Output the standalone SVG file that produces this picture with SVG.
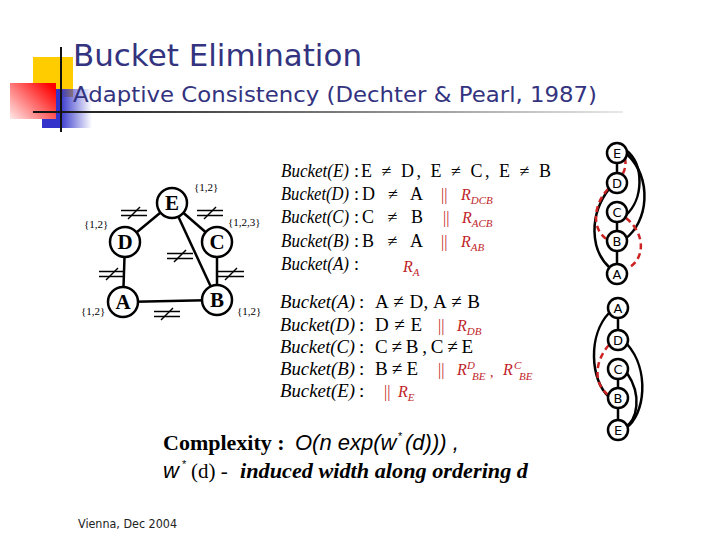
<svg xmlns="http://www.w3.org/2000/svg" width="720" height="540" viewBox="0 0 720 540">
<defs>
<linearGradient id="gBlue" x1="0" y1="0" x2="1" y2="0"><stop offset="0.35" stop-color="#3333cc"/><stop offset="1" stop-color="#3333cc" stop-opacity="0"/></linearGradient>
<linearGradient id="gRed" x1="1" y1="0.2" x2="0" y2="1"><stop offset="0" stop-color="#ff0000"/><stop offset="1" stop-color="#ffe8e8"/></linearGradient>
<linearGradient id="gLine" x1="0" y1="0" x2="1" y2="0"><stop offset="0" stop-color="#111"/><stop offset="0.5" stop-color="#777"/><stop offset="1" stop-color="#e8e8e8"/></linearGradient>
<g id="neq"><line x1="-13" y1="-2.5" x2="13" y2="-2.5"/><line x1="-13" y1="2.5" x2="13" y2="2.5"/><line x1="-6" y1="6" x2="6" y2="-6"/></g>
</defs>
<style>
.ttl{font-family:"DejaVu Sans",sans-serif;fill:#333380}
.ser{font-family:"Liberation Serif",serif;fill:#000}
.it{font-style:italic}
.red{fill:#c01e28;font-family:"Liberation Serif",serif}
.ri{fill:#c01e28;font-family:"Liberation Serif",serif;font-style:italic}
.nd{fill:#fff;stroke:#000;stroke-width:2.5}
.ed{stroke:#000;stroke-width:2.5;fill:none}
.dsh{stroke:#cc2222;stroke-width:2.5;fill:none;stroke-dasharray:6 4}
.nl{font-family:"Liberation Serif",serif;font-weight:bold;font-size:21px;text-anchor:middle}
.sl{font-family:"DejaVu Sans",sans-serif;font-size:13px;text-anchor:middle}
.dom{font-family:"Liberation Serif",serif;font-size:11px}
.mk{stroke:#000;stroke-width:1.5}
</style>
<rect width="720" height="540" fill="#fff"/>
<g id="logo">
<rect x="33" y="57" width="40" height="40" fill="#ffcc00"/>
<rect x="42" y="89" width="50" height="39" fill="url(#gBlue)"/>
<rect x="10" y="83" width="46" height="36" fill="url(#gRed)"/>
<rect x="33" y="111" width="590" height="2" fill="url(#gLine)"/>
<line x1="61" y1="47" x2="61" y2="132" stroke="#111" stroke-width="2"/>
</g>
<text class="ttl" x="73" y="66" font-size="30" textLength="289" lengthAdjust="spacingAndGlyphs">Bucket Elimination</text>
<text class="ttl" x="73" y="102" font-size="22" textLength="524" lengthAdjust="spacingAndGlyphs">Adaptive Consistency (Dechter &amp; Pearl, 1987)</text>

<g id="left-graph-connectors" class="ed">
<line x1="172" y1="203" x2="125" y2="242"/>
<line x1="172" y1="203" x2="217" y2="242"/>
<line x1="172" y1="203" x2="217" y2="300"/>
<line x1="125" y1="242" x2="123" y2="302"/>
<line x1="217" y1="242" x2="217" y2="300"/>
<line x1="123" y1="302" x2="217" y2="300"/>
</g>
<g id="neq-marks" class="mk">
<use href="#neq" x="134" y="213"/>
<use href="#neq" x="210" y="213"/>
<use href="#neq" x="180" y="256"/>
<use href="#neq" x="112" y="274"/>
<use href="#neq" x="231" y="274"/>
<use href="#neq" x="167" y="314"/>
</g>
<g id="nE"><circle class="nd" cx="172" cy="203" r="15"/><text class="nl" x="172" y="210">E</text></g>
<g id="nD"><circle class="nd" cx="125" cy="242" r="15"/><text class="nl" x="125" y="249">D</text></g>
<g id="nC"><circle class="nd" cx="217" cy="242" r="15"/><text class="nl" x="217" y="249">C</text></g>
<g id="nA"><circle class="nd" cx="123" cy="302" r="15"/><text class="nl" x="123" y="309">A</text></g>
<g id="nB"><circle class="nd" cx="217" cy="300" r="15"/><text class="nl" x="217" y="307">B</text></g>
<g id="domains">
<text class="dom" x="194" y="191">{1,2}</text>
<text class="dom" x="84" y="228">{1,2}</text>
<text class="dom" x="228" y="226">{1,2,3}</text>
<text class="dom" x="81" y="315">{1,2}</text>
<text class="dom" x="237" y="315">{1,2}</text>
</g>

<g id="bucket-top" font-size="18">
<text class="ser it" x="281" y="177" textLength="68" lengthAdjust="spacingAndGlyphs">Bucket(E)</text><text class="ser" x="354" y="177">:</text>
<text class="ser" x="361" y="177" textLength="190" lengthAdjust="spacing">E ≠ D, E ≠ C, E ≠ B</text>
<text class="ser it" x="281" y="200" textLength="68" lengthAdjust="spacingAndGlyphs">Bucket(D)</text><text class="ser" x="354" y="200">:</text>
<text class="ser" x="362" y="200" textLength="61" lengthAdjust="spacing">D ≠ A</text>
<text class="red" x="441" y="200" font-size="16">||</text>
<text class="ri" x="461" y="200" font-size="16">R<tspan font-size="11" dy="4">DCB</tspan></text>
<text class="ser it" x="281" y="223" textLength="68" lengthAdjust="spacingAndGlyphs">Bucket(C)</text><text class="ser" x="354" y="223">:</text>
<text class="ser" x="362" y="223" textLength="61" lengthAdjust="spacing">C ≠ B</text>
<text class="red" x="443" y="223" font-size="16">||</text>
<text class="ri" x="462" y="223" font-size="16">R<tspan font-size="11" dy="4">ACB</tspan></text>
<text class="ser it" x="281" y="247" textLength="68" lengthAdjust="spacingAndGlyphs">Bucket(B)</text><text class="ser" x="354" y="247">:</text>
<text class="ser" x="362" y="247" textLength="61" lengthAdjust="spacing">B ≠ A</text>
<text class="red" x="441" y="247" font-size="16">||</text>
<text class="ri" x="461" y="247" font-size="16">R<tspan font-size="11" dy="4">AB</tspan></text>
<text class="ser it" x="281" y="270" textLength="68" lengthAdjust="spacingAndGlyphs">Bucket(A)</text><text class="ser" x="354" y="270">:</text>
<text class="ri" x="403" y="272" font-size="16">R<tspan font-size="11" dy="4">A</tspan></text>
</g>

<g id="bucket-bottom" font-size="19">
<text class="ser it" x="280" y="308" textLength="75" lengthAdjust="spacingAndGlyphs">Bucket(A)</text><text class="ser" x="359" y="308">:</text>
<text class="ser" x="375" y="308" textLength="105" lengthAdjust="spacing">A ≠ D, A ≠ B</text>
<text class="ser it" x="280" y="331" textLength="75" lengthAdjust="spacingAndGlyphs">Bucket(D)</text><text class="ser" x="359" y="331">:</text>
<text class="ser" x="375" y="331" textLength="47" lengthAdjust="spacing">D ≠ E</text>
<text class="red" x="438" y="331" font-size="16">||</text>
<text class="ri" x="457" y="331" font-size="16">R<tspan font-size="11" dy="4">DB</tspan></text>
<text class="ser it" x="280" y="353" textLength="75" lengthAdjust="spacingAndGlyphs">Bucket(C)</text><text class="ser" x="359" y="353">:</text>
<text class="ser" x="375" y="353" textLength="98" lengthAdjust="spacing">C ≠ B , C ≠ E</text>
<text class="ser it" x="280" y="375" textLength="75" lengthAdjust="spacingAndGlyphs">Bucket(B)</text><text class="ser" x="359" y="375">:</text>
<text class="ser" x="375" y="375" textLength="43" lengthAdjust="spacing">B ≠ E</text>
<text class="red" x="438" y="375" font-size="16">||</text>
<text class="ri" x="457" y="375" font-size="16">R</text><text class="ri" x="467" y="369" font-size="11">D</text><text class="ri" x="472" y="380" font-size="11">BE</text>
<text class="red" x="490" y="377" font-size="14">,</text>
<text class="ri" x="503" y="375" font-size="16">R</text><text class="ri" x="514" y="369" font-size="11">C</text><text class="ri" x="519" y="380" font-size="11">BE</text>
<text class="ser it" x="280" y="397" textLength="75" lengthAdjust="spacingAndGlyphs">Bucket(E)</text><text class="ser" x="359" y="397">:</text>
<text class="red" x="384" y="397" font-size="16">||</text>
<text class="ri" x="398" y="397" font-size="16">R<tspan font-size="11" dy="4">E</tspan></text>
</g>

<g id="right-top-connectors">
<line class="ed" x1="617" y1="153" x2="617" y2="183"/>
<line class="ed" x1="617" y1="212" x2="617" y2="241"/>
<line class="ed" x1="617" y1="241" x2="617" y2="274"/>
<path class="ed" d="M626,150 C645,165 643,200 626,215"/>
<path class="ed" d="M627,154 C653,180 648,222 625,239"/>
<path class="ed" d="M609,189 C589,215 590,250 610,268"/>
<path class="dsh" d="M625,158 Q627,168 621,177"/>
<path class="dsh" d="M608,189 C593,205 591,230 608,240"/>
<path class="dsh" d="M626,218 C647,235 644,260 628,268"/>
</g>
<g id="rtE"><circle class="nd" cx="617" cy="153" r="10"/><text class="sl" x="617" y="158">E</text></g>
<g id="rtD"><circle class="nd" cx="617" cy="183" r="10"/><text class="sl" x="617" y="188">D</text></g>
<g id="rtC"><circle class="nd" cx="617" cy="212" r="10"/><text class="sl" x="617" y="217">C</text></g>
<g id="rtB"><circle class="nd" cx="617" cy="241" r="10"/><text class="sl" x="617" y="246">B</text></g>
<g id="rtA"><circle class="nd" cx="617" cy="274" r="10"/><text class="sl" x="617" y="279">A</text></g>

<g id="right-bottom-connectors">
<line class="ed" x1="618" y1="308" x2="618" y2="340"/>
<line class="ed" x1="618" y1="369" x2="618" y2="398"/>
<line class="ed" x1="618" y1="398" x2="618" y2="430"/>
<path class="ed" d="M609,313 C588,335 590,380 609,397"/>
<path class="ed" d="M627,344 C650,370 645,415 626,428"/>
<path class="ed" d="M627,373 C642,395 638,420 624,428"/>
<path class="dsh" d="M609,345 C595,360 592,385 610,396"/>
</g>
<g id="rbA"><circle class="nd" cx="618" cy="308" r="10"/><text class="sl" x="618" y="313">A</text></g>
<g id="rbD"><circle class="nd" cx="618" cy="340" r="10"/><text class="sl" x="618" y="345">D</text></g>
<g id="rbC"><circle class="nd" cx="618" cy="369" r="10"/><text class="sl" x="618" y="374">C</text></g>
<g id="rbB"><circle class="nd" cx="618" cy="398" r="10"/><text class="sl" x="618" y="403">B</text></g>
<g id="rbE"><circle class="nd" cx="618" cy="430" r="10"/><text class="sl" x="618" y="435">E</text></g>

<g id="complexity">
<text class="ser" x="163" y="450" font-size="22" font-weight="bold">Complexity :</text>
<text x="295" y="450" font-size="22" font-style="italic" font-family="Liberation Sans, sans-serif">O(n exp(w</text>
<text x="398" y="440" font-size="11" font-family="Liberation Sans, sans-serif">*</text>
<text x="405" y="450" font-size="22" font-style="italic" font-family="Liberation Sans, sans-serif">(d))) ,</text>
<text x="163" y="478" font-size="22" font-style="italic" font-family="Liberation Sans, sans-serif">w</text>
<text x="182" y="468" font-size="11" font-family="Liberation Sans, sans-serif">*</text>
<text class="ser" x="191" y="478" font-size="21">(d) -</text>
<text class="ser" x="240" y="478" font-size="22" font-weight="bold" font-style="italic" textLength="288" lengthAdjust="spacingAndGlyphs">induced width along ordering d</text>
</g>
<text x="78" y="528" font-size="12.5" font-family="DejaVu Sans, sans-serif" fill="#222" textLength="99" lengthAdjust="spacingAndGlyphs">Vienna, Dec 2004</text>
</svg>
